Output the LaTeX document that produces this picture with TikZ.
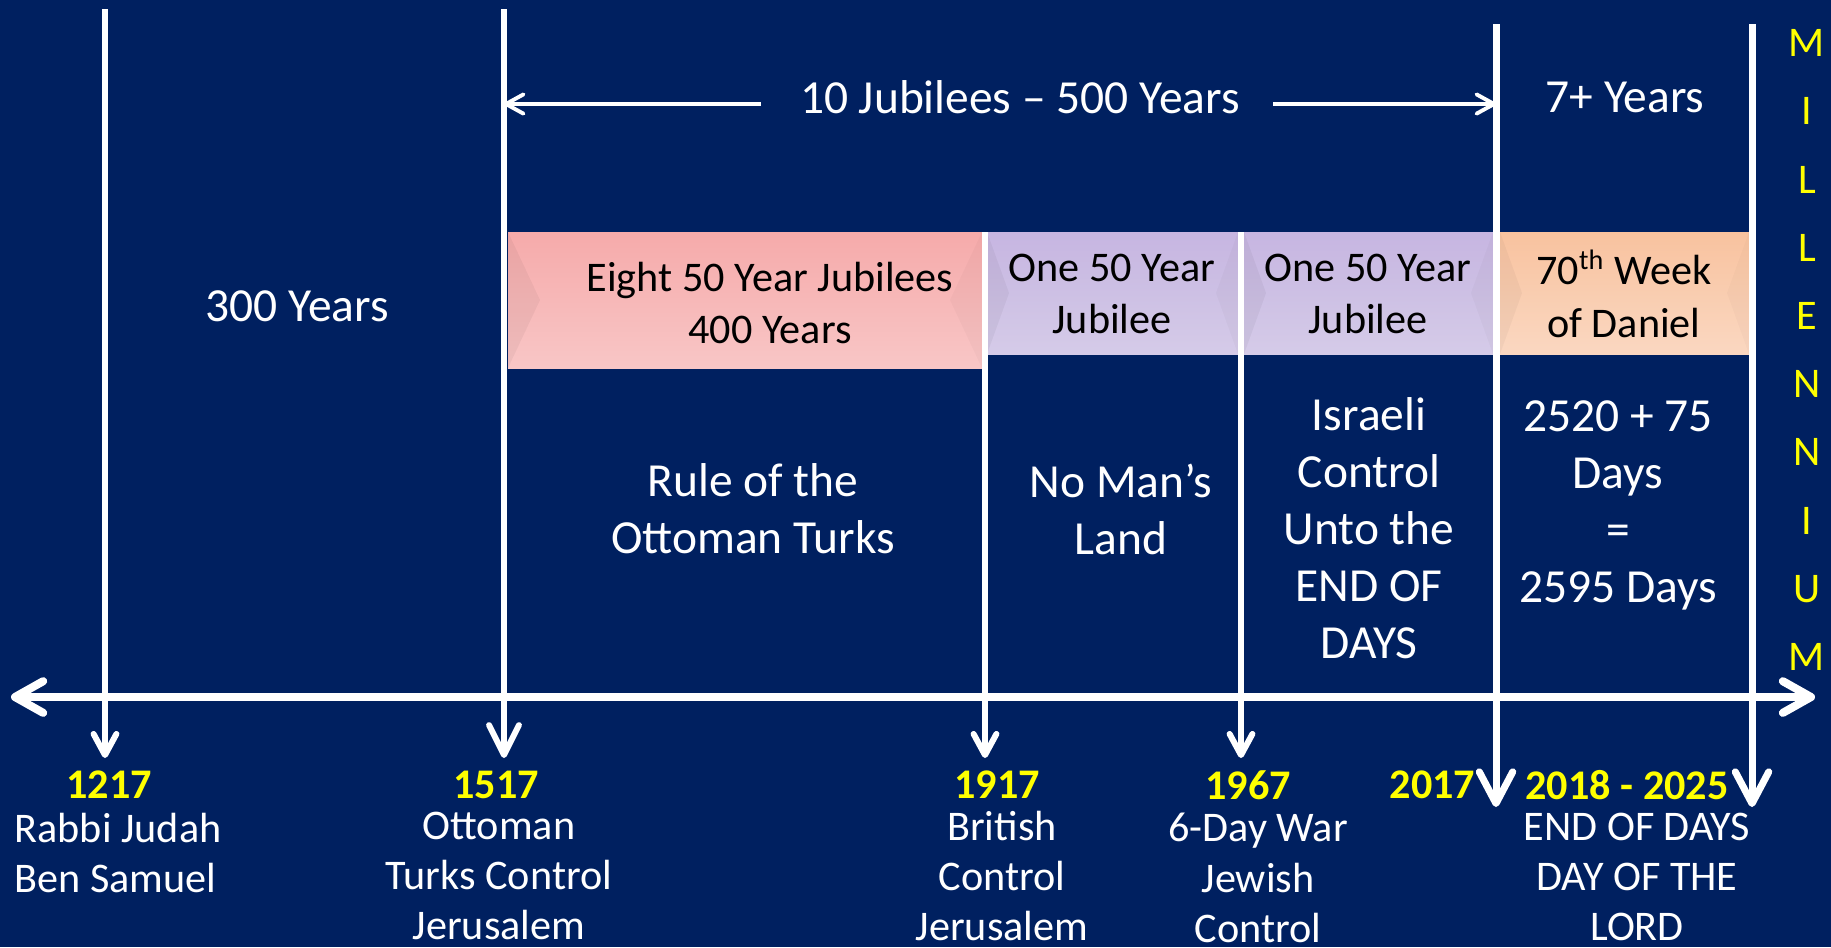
\documentclass[tikz,border=0pt]{standalone}
\usepackage{fontspec}
\setmainfont{Carlito}
\usetikzlibrary{arrows.meta}

\definecolor{navy}{RGB}{0,32,96}
\definecolor{yearyellow}{RGB}{255,255,0}
\definecolor{pinkTop}{HTML}{FDE4E4}
\definecolor{pinkHi}{HTML}{F5A5A5}
\definecolor{pinkMid}{HTML}{F7B8B8}
\definecolor{pinkLow}{HTML}{F9D2D2}
\definecolor{pinkEdge}{HTML}{F3DCDC}
\definecolor{lilacTop}{HTML}{F6EDFF}
\definecolor{lilacHi}{HTML}{C4B1E0}
\definecolor{lilacMid}{HTML}{CDC0E4}
\definecolor{lilacLow}{HTML}{DCD4EC}
\definecolor{lilacEdge}{HTML}{E2DCEE}
\definecolor{peachTop}{HTML}{FFF0C8}
\definecolor{peachHi}{HTML}{F8BE98}
\definecolor{peachMid}{HTML}{F9CDB0}
\definecolor{peachLow}{HTML}{FCE0CF}
\definecolor{peachEdge}{HTML}{F6E2D6}

\pgfdeclareverticalshading{pinkbar}{100bp}{color(0bp)=(pinkEdge); color(4bp)=(pinkLow); color(50bp)=(pinkMid); color(85bp)=(pinkHi); color(95bp)=(pinkTop); color(100bp)=(pinkTop)}
\pgfdeclareverticalshading{lilacbar}{100bp}{color(0bp)=(lilacEdge); color(4bp)=(lilacLow); color(50bp)=(lilacMid); color(85bp)=(lilacHi); color(95bp)=(lilacTop); color(100bp)=(lilacTop)}
\pgfdeclareverticalshading{peachbar}{100bp}{color(0bp)=(peachEdge); color(4bp)=(peachLow); color(50bp)=(peachMid); color(85bp)=(peachHi); color(95bp)=(peachTop); color(100bp)=(peachTop)}

\tikzset{
  dateline/.style={white, line width=1.7pt, -{Straight Barb[length=6pt,width=6.5pt,round]}},
  axisline/.style={white, line width=2.3pt, {Straight Barb[length=8pt,width=9pt,round]}-{Straight Barb[length=8pt,width=9pt,round]}},
  spanarrow/.style={white, line width=1.1pt, -{Straight Barb[length=5pt,width=5.5pt,round]}},
  midtext/.style={text=white, align=center, inner sep=0pt, font=\fontsize{13.5}{16.2}\selectfont},
  datetext/.style={text=white, align=center, inner sep=0pt, font=\fontsize{12}{14.3}\selectfont},
  yeartext/.style={text=yearyellow, inner sep=0pt, font=\bfseries\fontsize{12}{14.3}\selectfont},
  bartext/.style={text=black, align=center, inner sep=0pt, font=\fontsize{12}{15}\selectfont},
  facet/.style={black, fill opacity=0.045},
}

\begin{document}
\begin{tikzpicture}[x=0.01cm,y=-0.01cm]
\fill[navy] (0,0) rectangle (1831,947);
\useasboundingbox (0,0) rectangle (1831,947);

% jubilee bars
\shade[shading=pinkbar] (508,232) rectangle (982,368);
\fill[facet] (508,232) -- (540,300) -- (508,368) -- cycle;
\fill[facet, fill opacity=0.025] (982,232) -- (950,300) -- (982,368) -- cycle;
\shade[shading=lilacbar] (987,232) rectangle (1238,354);
\fill[facet] (987,232) -- (1009,293) -- (987,354) -- cycle;
\fill[facet, fill opacity=0.025] (1238,232) -- (1216,293) -- (1238,354) -- cycle;
\shade[shading=lilacbar] (1244,232) rectangle (1493,354);
\fill[facet] (1244,232) -- (1266,293) -- (1244,354) -- cycle;
\fill[facet, fill opacity=0.025] (1493,232) -- (1471,293) -- (1493,354) -- cycle;
\shade[shading=peachbar] (1500,232) rectangle (1749,354);
\fill[facet, fill opacity=0.035] (1500,232) -- (1522,293) -- (1500,354) -- cycle;
\fill[facet, fill opacity=0.02] (1749,232) -- (1727,293) -- (1749,354) -- cycle;

\node[bartext] (eight) at (770,303) {Eight 50 Year Jubilees\\400 Years};
\node[bartext] (onea) at (1112,294) {One 50 Year\\Jubilee};
\node[bartext] (oneb) at (1368,294) {One 50 Year\\Jubilee};
\node[bartext] (week) at (1624,294) {70\textsuperscript{th} Week\\of Daniel};

% time axis and date lines
\coordinate (axisL) at (11,697);
\coordinate (axisR) at (1815,697);
\draw[axisline] (axisL) -- (axisR);

\coordinate (top1217) at (105,9);
\coordinate (tip1217) at (105,758);
\coordinate (top1517) at (504,9);
\coordinate (tip1517) at (504,758);
\coordinate (top1917) at (985,232);
\coordinate (tip1917) at (985,758);
\coordinate (top1967) at (1241,232);
\coordinate (tip1967) at (1241,758);
\coordinate (top2017) at (1496,24);
\coordinate (tip2017) at (1496,807);
\coordinate (top2025) at (1752,24);
\coordinate (tip2025) at (1752,807);
\draw[dateline] (top1217) -- (tip1217);
\draw[dateline, -{Straight Barb[length=8.5pt,width=8.5pt,round]}] (top1517) -- (tip1517);
\draw[dateline] (top1917) -- (tip1917);
\draw[dateline] (top1967) -- (tip1967);
\draw[dateline, line width=2pt, -{Straight Barb[length=9pt,width=9.5pt,round]}] (top2017) -- (tip2017);
\draw[dateline, line width=2pt, -{Straight Barb[length=9pt,width=9.5pt,round]}] (top2025) -- (tip2025);

% spans
\node[midtext] (span) at (1020,97) {10 Jubilees – 500 Years};
\coordinate (spanL) at (761,104);
\coordinate (spanR) at (1273,104);
\draw[spanarrow] (spanL) -- (spanL -| top1517);
\draw[spanarrow] (spanR) -- (spanR -| top2017);
\node[midtext] (seven) at (1625,97) {7+ Years};
\node[midtext] (three) at (297,306) {300 Years};

\node[midtext] (turks) at (753,509) {Rule of the\\Ottoman Turks};
\node[midtext] (noman) at (1121,509) {No Man’s\\Land};
\node[midtext] (israel) at (1369,528) {Israeli\\Control\\Unto the\\END OF\\DAYS};
\node[midtext] (days) at (1618,505) {2520 + 75\\Days\\=\\2595 Days};

\node[text=yearyellow, align=center, inner sep=0pt, font=\fontsize{12}{19.4}\selectfont] (mill) at (1807,350) {M\\I\\L\\L\\E\\N\\N\\I\\U\\M};

% dates
\node[yeartext] (y1217) at (109,785) {1217};
\node[datetext, align=left, anchor=west] (d1217) at (14,853) {Rabbi Judah\\Ben Samuel};
\node[yeartext] (y1517) at (496,785) {1517};
\node[datetext] (d1517) at (499,876) {Ottoman\\Turks Control\\Jerusalem};
\node[yeartext] (y1917) at (997,785) {1917};
\node[datetext] (d1917) at (1002,876) {British\\Control\\Jerusalem};
\node[yeartext] (y1967) at (1248,785) {1967};
\node[datetext] (d1967) at (1258,878) {6-Day War\\Jewish\\Control};
\node[yeartext, anchor=east] (y2017) at (1476,785) {2017};
\node[yeartext] (y2018) at (1627,785) {2018 - 2025};
\node[datetext] (d2018) at (1637,877) {END OF DAYS\\DAY OF THE\\LORD};
\end{tikzpicture}
\end{document}
